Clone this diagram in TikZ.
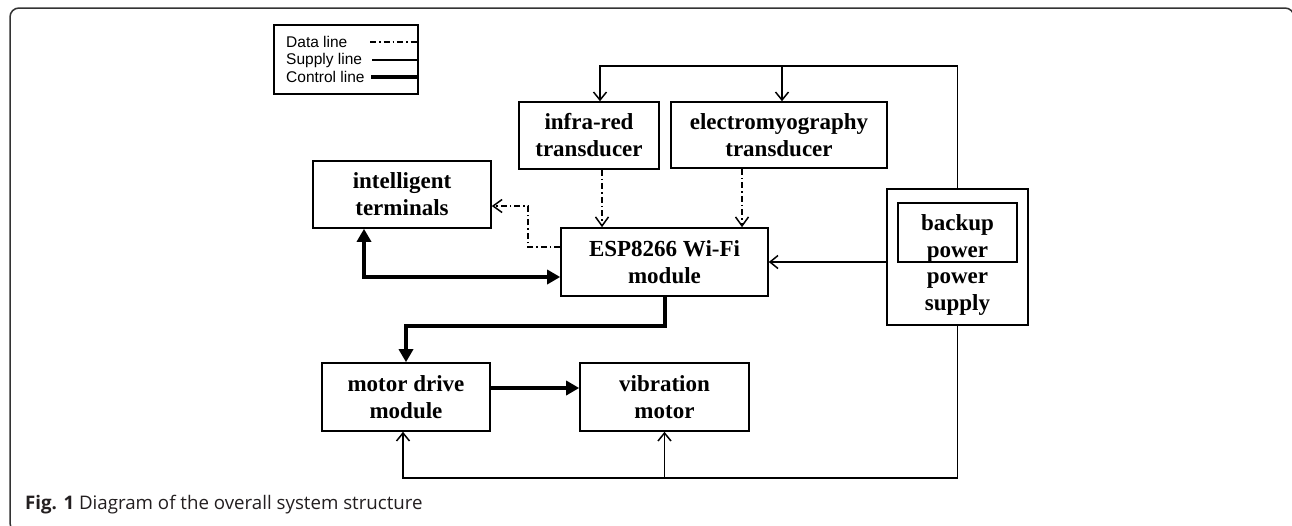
\documentclass[tikz,border=0pt]{standalone}
\usepackage{fontspec}
\setmainfont{Liberation Serif}
\newfontfamily\legfont{Liberation Sans}
\newfontfamily\capfont{Open Sans}
\usetikzlibrary{arrows.meta,calc}
\definecolor{frame}{HTML}{333333}
\definecolor{captxt}{HTML}{231F20}
\tikzset{
  blk/.style={draw, line width=1.6pt, align=center, inner sep=0pt,
    font=\fontsize{23}{27}\selectfont\bfseries},
  sup/.style={line width=1.5pt},
  supar/.style={sup, -{Straight Barb[length=8pt,width=13pt,line width=1.5pt]}},
  dataln/.style={line width=1.5pt, dash pattern=on 6pt off 3pt on 1.5pt off 3pt},
  dataar/.style={dataln, -{Straight Barb[length=9pt,width=13pt,line width=1.5pt]}},
  ctl/.style={line width=4pt},
  ctlar/.style={ctl, -{Triangle[length=13pt,width=14pt]}},
  legtext/.style={font=\legfont\fontsize{15.5}{18}\selectfont, inner sep=0pt, anchor=west},
}
\begin{document}
\begin{tikzpicture}[x=1pt,y=-1pt]
\clip (0,0) rectangle (1292,525);
\fill[white] (0,0) rectangle (1292,525);
% frame
\draw[frame, line width=1.5pt, rounded corners=9pt] (40,532) -| (10,8) -| (1294,60);
% legend
\node[draw, line width=1.2pt, minimum width=144pt, minimum height=69pt] (leg) at (346,59.5) {};
\node[legtext] (l1) at (286,42) {Data line};
\node[legtext] (l2) at (286,60) {Supply line};
\node[legtext] (l3) at (286,77) {Control line};
\draw[dataln] ([xshift=84]l1.west) -- (l1.west -| leg.east);
\draw[sup] ([xshift=86]l2.west) -- (l2.west -| leg.east);
\draw[line width=3.5pt] ([xshift=85]l3.west) -- (l3.west -| leg.east);
% blocks
\node[blk, minimum width=140pt, minimum height=67pt] (ir) at (589,135.5) {infra-red\\transducer};
\node[blk, minimum width=216pt, minimum height=66pt] (emg) at (779,135) {electromyography\\transducer};
\node[blk, minimum width=178pt, minimum height=67pt] (term) at (402,194.5) {intelligent\\terminals};
\node[blk, minimum width=207pt, minimum height=68pt] (esp) at (664.5,262) {ESP8266 Wi-Fi\\module};
\node[blk, minimum width=141pt, minimum height=136pt] (ps) at (957.5,257) {};
\node[blk, minimum width=119pt, minimum height=59pt] (bk) at (957.5,232.5) {};
\node[font=\fontsize{23}{26.5}\selectfont\bfseries, align=center, inner sep=0pt] (pstext) at (957.5,265) {backup\\power\\power\\supply};
\node[blk, minimum width=168pt, minimum height=68pt] (md) at (406,397) {motor drive\\module};
\node[blk, minimum width=169pt, minimum height=68pt] (vm) at (664.5,397) {vibration\\motor};
% supply lines
\draw[supar] (ps.north) |- ([xshift=11,yshift=35]ir.north) -- ([xshift=11]ir.north);
\draw[supar] ([xshift=3,yshift=35]emg.north) -- ([xshift=3]emg.north);
\draw[supar] ([yshift=-5]ps.west) -- ([yshift=-5]ps.west -| esp.east);
\draw[supar] (ps.south) |- ([xshift=-3,yshift=-46]md.south) -- ([xshift=-3]md.south);
\draw[supar] ([yshift=-46]vm.south) -- (vm.south);
% data lines
\draw[dataar] ([xshift=13]ir.south) -- ([xshift=13]ir.south |- esp.north);
\draw[dataar] ([xshift=-37]emg.south) -- ([xshift=-37]emg.south |- esp.north);
\draw[dataar] ([yshift=15]esp.west) -| ([xshift=36,yshift=-11.5]term.east) -- ([yshift=-11.5]term.east);
% control lines
\draw[ctl, {Triangle[length=13pt,width=14pt]}-{Triangle[length=13pt,width=14pt]}] ([xshift=-38]term.south) |- ([yshift=-15]esp.west);
\draw[ctlar] (esp.south) |- ([yshift=36]md.north) -- (md.north);
\draw[ctlar] ([yshift=9]md.east) -- ([yshift=9]md.east -| vm.west);
% caption
\node[anchor=base west, inner sep=0pt, text=captxt, font=\capfont\fontsize{18.7}{22}\selectfont] (cap) at (25,509) {\textbf{Fig. 1} Diagram of the overall system structure};
\end{tikzpicture}
\end{document}
